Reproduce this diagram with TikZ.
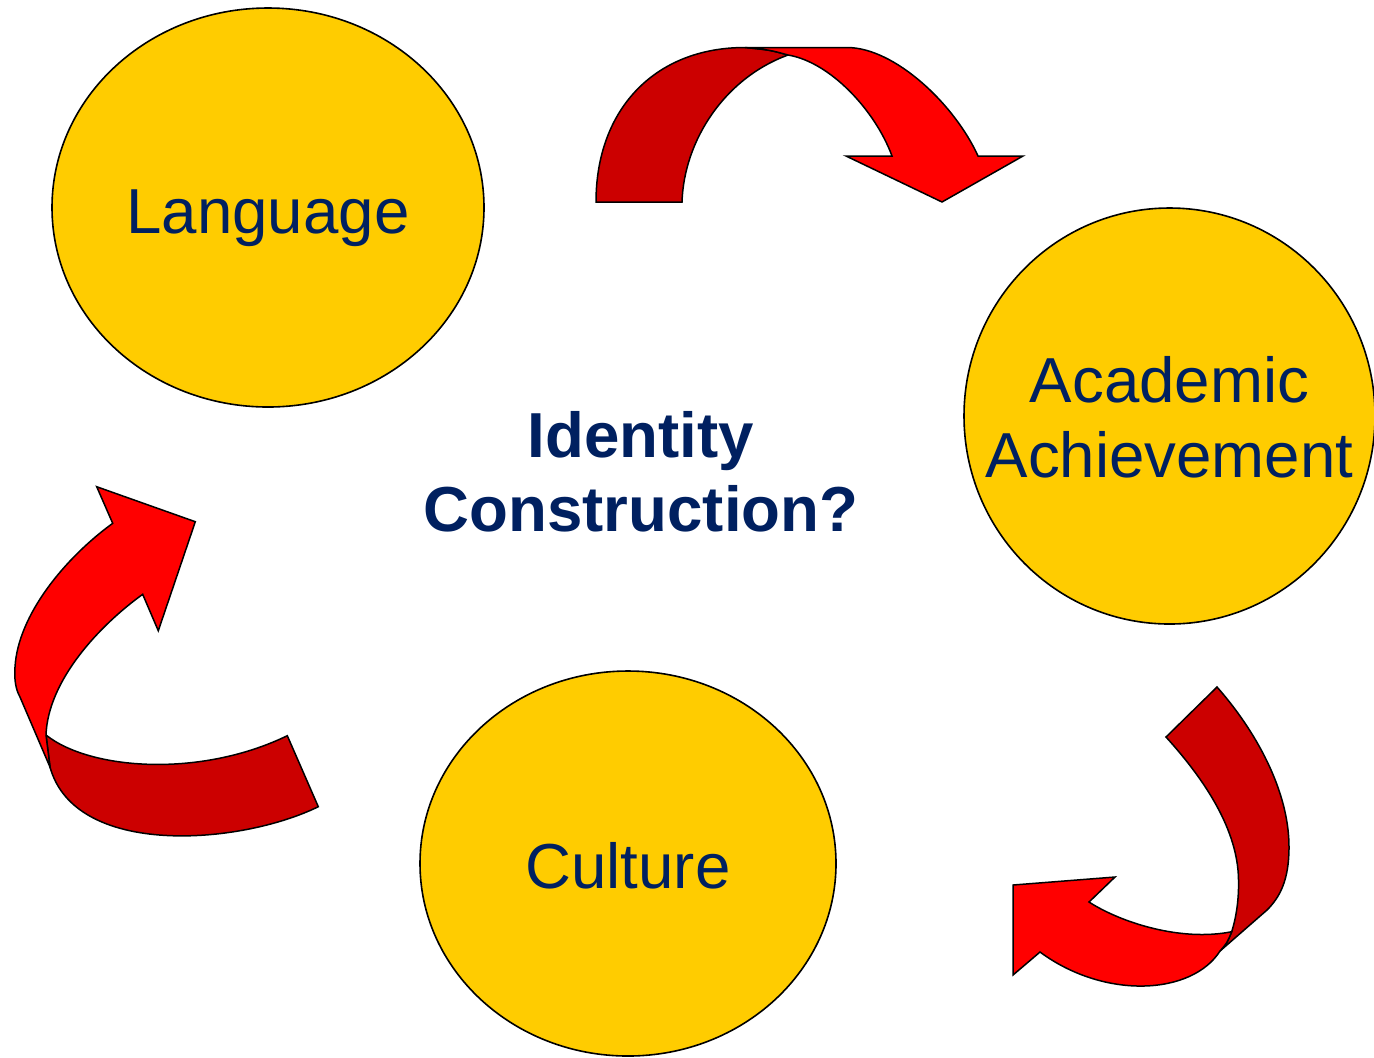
\documentclass[tikz,border=0pt]{standalone}
\usepackage{fontspec}
\setmainfont{Liberation Sans}
\usetikzlibrary{shapes.geometric}
\definecolor{gold}{RGB}{255,204,0}
\definecolor{navy}{RGB}{0,32,96}
\definecolor{ribbonred}{RGB}{255,0,0}
\definecolor{ribbondark}{RGB}{204,0,0}
\tikzstyle{blob}=[ellipse,draw=black,fill=gold,line width=0.8pt,inner sep=0pt]
\tikzstyle{blobtext}=[text=navy,align=center,inner sep=0pt,font=\fontsize{31.8}{37.5}\selectfont]
\tikzstyle{title}=[text=navy,align=center,font=\fontsize{31.8}{37}\selectfont\bfseries]
\tikzstyle{front} = [draw=black,fill=ribbonred,line width=0.75pt]
\tikzstyle{back} = [draw=black,fill=ribbondark,line width=0.75pt]

\begin{document}
\begin{tikzpicture}[x=0.5pt,y=-0.5pt]
\useasboundingbox (0,0) rectangle (1374,1057);

% The three circles
\foreach \pos/\name/\w/\h/\dy/\txt in {{(268,207.5)/language/216pt/199.5pt/-5.5pt/Language}, {(1169.5,416)/academic/205.5pt/208pt/-0.5pt/{Academic\\Achievement}}, {(628,863.5)/culture/208pt/192.5pt/-1pt/Culture}}
\node[blob,minimum width=\w,minimum height=\h,label={[blobtext,yshift=\dy]center:\txt}] (\name) at \pos {};

% The question in the middle
\node[title] (identity) at (641,472) {Identity\\Construction?};

% Top ribbon: Language to Academic Achievement
\path[back] (596,202) .. controls (596,109.3) and (654.8,47.5) .. (745,47.5)
  .. controls (770,50) .. (788,55) .. controls (725,78) and (684,140) .. (682,202) -- cycle;
\path[front] (745,47.5) -- (847,47.5) .. controls (895,47.5) and (955,105) .. (978,156)
  -- (1023,156) -- (942,202) -- (846,156) -- (892,156)
  .. controls (875,110) and (830,62) .. (788,55) .. controls (770,50) .. (745,47.5) -- cycle;

% Right ribbon: Academic Achievement to Culture
\path[back] (1217,687) .. controls (1255,730) and (1289,790) .. (1289,847)
  .. controls (1289,880) and (1280,897) .. (1267,910) -- (1220,951)
  .. controls (1227,943) .. (1231.7,931.7) .. controls (1236,918) and (1239,900) .. (1238.5,880)
  .. controls (1238,830) and (1205,780) .. (1166,737) -- cycle;
\path[front] (1089,902) .. controls (1120,922) and (1180,942) .. (1231.7,931.7)
  .. controls (1227,943) .. (1220,951) .. controls (1192,995) and (1105,1000) .. (1040,952)
  -- (1013,975) -- (1013,885) -- (1115,877) -- cycle;

% Left ribbon: Culture to Language
\path[back] (46,735) .. controls (90,770) and (200,778) .. (287.3,735.7) -- (318.3,806.7)
  .. controls (240,845) and (75,858) .. (50,767) -- cycle;
\path[front] (142.7,594.3) .. controls (100,625) and (48,680) .. (46,735) -- (50,767) -- (20,697)
  .. controls (16,690) and (14,680) .. (15,667) .. controls (18,615) and (65,558) .. (112.7,523.3)
  -- (96.7,486.7) -- (195.3,521.7) -- (158.3,630.7) -- cycle;

\end{tikzpicture}
\end{document}
